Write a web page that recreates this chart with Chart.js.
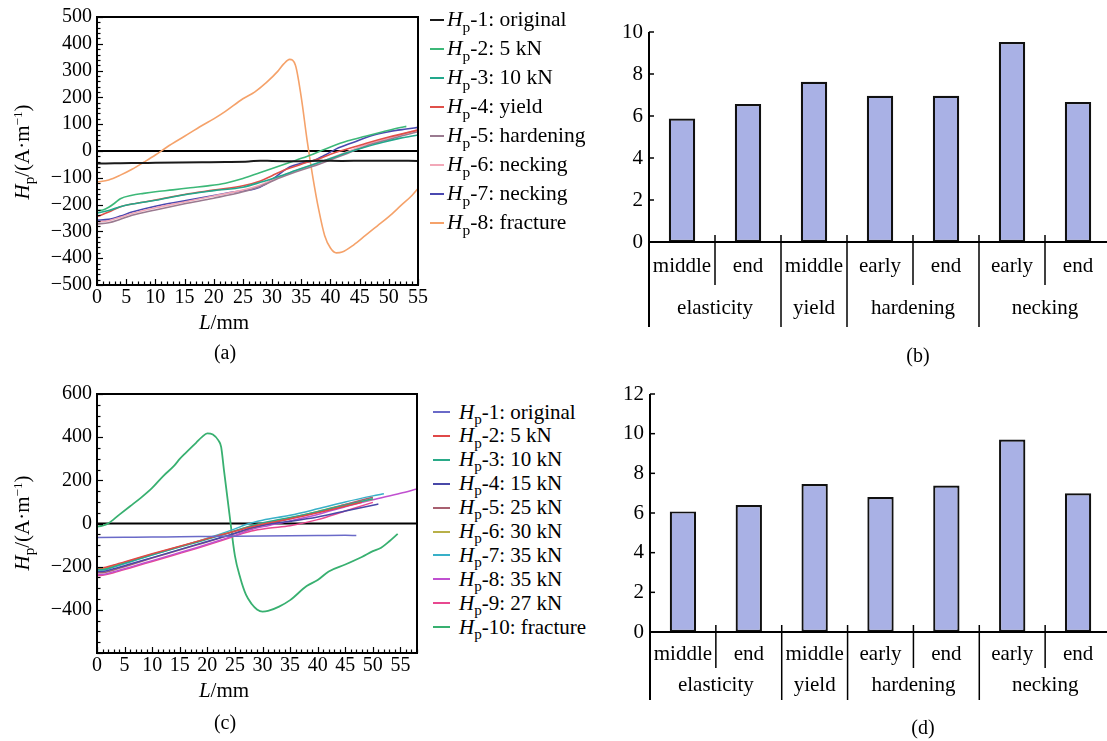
<!DOCTYPE html>
<html><head><meta charset="utf-8">
<script src="https://cdn.jsdelivr.net/npm/chart.js@4"></script>
<style>
html,body{margin:0;padding:0;width:1107px;height:741px;overflow:hidden;background:#fff;font-family:'Liberation Serif','Times New Roman',serif;color:#000}
canvas{position:absolute;display:block}
.t{position:absolute;white-space:nowrap;line-height:1;font-size:20px}
.sub{font-size:0.72em;position:relative;top:0.34em;line-height:0}
.sup{font-size:0.62em;position:relative;top:-0.55em;line-height:0}
.sw{position:absolute;height:2px}
</style></head><body>
<canvas id="ca" width="432" height="312" style="left:0;top:0"></canvas>
<canvas id="cb" width="521" height="370" style="left:590px;top:0"></canvas>
<canvas id="cc" width="432" height="312" style="left:0;top:370px"></canvas>
<canvas id="cd" width="521" height="371" style="left:590px;top:370px"></canvas>
<script>
// ---------- Panel (a) data ----------
const aNames = ['original','5 kN','10 kN','yield','hardening','necking','necking','fracture'];
const aColors = ['#1a1a1a','#3cb878','#22a88c','#e0504a','#9a7a90','#f2a8b8','#4a48b0','#f5a26a'];
const aL1 = [0,3,6,10,14,18,22,26,28,30,34,38,42,46,50,55];
const aH1 = [-47,-46,-45,-44,-43,-42,-41,-39,-36,-37,-38,-36,-37,-36,-36,-37];
const aL2 = [0,1,2,3,4,6,8,10,13,16,19,22,25,28,31,34,37,40,43,46,49,52,53];
const aH2 = [-222,-220,-210,-195,-178,-165,-158,-152,-145,-137,-130,-120,-103,-80,-58,-35,-12,15,38,55,72,88,92];
const aL3 = [0,2,4,6,10,15,20,25,28,31,34,37,40,43,46,49,52,55];
const aH3 = [-232,-222,-208,-198,-184,-163,-148,-135,-117,-96,-73,-50,-28,-5,15,33,48,60];
const aL4 = [0,2,4,6,10,15,20,25,28,30,32,34,36,38,40,43,46,50,55];
const aH4 = [-245,-228,-208,-198,-183,-162,-146,-130,-112,-92,-72,-57,-42,-30,-12,8,28,52,78];
const aL5 = [0,2,4,6,10,15,20,25,28,31,34,37,40,43,46,50,55];
const aH5 = [-272,-268,-255,-240,-220,-197,-176,-152,-132,-103,-78,-57,-33,-8,18,43,72];
const aL6 = [0,2,4,6,10,15,20,25,28,31,34,37,40,43,46,50,55];
const aH6 = [-264,-260,-247,-233,-212,-190,-168,-146,-127,-99,-74,-52,-27,-2,23,48,80];
const aL7 = [0,2,4,6,10,15,20,25,27,29,31,33,35,37,39,41,44,47,50,53,55];
const aH7 = [-258,-255,-243,-228,-206,-186,-166,-148,-142,-122,-90,-60,-46,-36,-16,8,33,57,72,82,88];
const aL8 = [0,2,4,6,8,10,12,15,18,20,22,25,27,29,31,32,33,34,35,36,37,38,39,40,41,42,44,46,48,50,52,54,55];
const aH8 = [-116,-108,-90,-68,-42,-15,15,55,95,120,148,195,220,255,298,325,342,320,200,40,-100,-220,-315,-362,-380,-377,-350,-315,-280,-245,-205,-165,-140];
const xTickValues = [0,5,10,15,20,25,30,35,40,45,50,55];

// ---------- Panel (c) data ----------
const cNames = ['original','5 kN','10 kN','15 kN','25 kN','30 kN','35 kN','35 kN','27 kN','fracture'];
const cColors = ['#6a6ac8','#e04848','#2aaa88','#4848a8','#a86070','#b8b048','#38b0c8','#c050d0','#e84890','#38b070'];
const cL1 = [0,5,10,15,20,25,30,35,40,45,47];
const cH1 = [-65,-64,-63,-61,-60,-59,-58,-57,-56,-55,-56];
const cL2 = [0,1,3,6,10,14,18,22,25,28,31,35,40,45,48];
const cH2 = [-205,-205,-192,-170,-140,-112,-84,-56,-36,-15,2,22,50,80,98];
const cL3 = [0,1,3,6,10,14,18,22,25,28,31,35,40,45,50];
const cH3 = [-212,-214,-200,-176,-145,-116,-88,-58,-35,-10,8,28,55,85,115];
const cL4 = [0,1,3,6,10,14,18,22,25,28,31,35,40,45,50,51];
const cH4 = [-222,-222,-210,-188,-158,-128,-98,-68,-45,-20,-3,10,30,58,85,90];
const cL5 = [0,1,3,6,10,14,18,22,25,28,31,35,40,45,50];
const cH5 = [-228,-228,-215,-192,-160,-130,-100,-70,-46,-22,-2,22,52,88,122];
const cL6 = [0,1,3,6,10,14,18,22,25,28,31,35,40,45,50];
const cH6 = [-208,-210,-196,-172,-142,-113,-85,-56,-34,-12,5,26,56,88,112];
const cL7 = [0,1,3,6,10,14,18,22,25,27,30,35,40,45,50,52];
const cH7 = [-215,-216,-202,-178,-146,-115,-84,-52,-25,-5,15,38,68,100,128,138];
const cL8 = [0,1,3,6,10,14,18,22,25,28,31,35,40,45,50,55,58];
const cH8 = [-236,-236,-224,-202,-172,-142,-112,-80,-55,-28,-10,12,42,78,110,140,160];
const cL9 = [0,1,3,6,10,14,18,22,25,28,31,35,40,45,50];
const cH9 = [-242,-240,-228,-206,-176,-146,-116,-84,-58,-35,-22,-10,18,58,98];
const cL10 = [0,1,2,4,6,8,10,12,14,15,16,18,19,20,21,22,22.5,23,24,25,26,27,28,29,30,31,33,35,38,40,42,45,48,50,51.5,53,54.5];
const cH10 = [-15,-10,0,40,80,120,165,220,268,299,325,375,400,418,412,385,355,250,45,-150,-255,-330,-372,-398,-408,-405,-385,-355,-290,-262,-222,-190,-155,-128,-112,-82,-48];

// ---------- Panels (b), (d) data ----------
const barLabels = ['middle','end','middle','early','end','early','end'];
const groupNames = ['elasticity','yield','hardening','necking'];
const groupSizes = [2,1,2,2];
const bValues = [5.88,6.57,7.63,6.96,6.96,9.52,6.67];
const dValues = [6.08,6.40,7.46,6.81,7.39,9.70,6.99];

Chart.defaults.font.family = "'Liberation Serif','Times New Roman',serif";
Chart.defaults.color = '#000';
Chart.defaults.animation = false;

const minus = v => v < 0 ? '\u2212' + Math.abs(v) : String(v);
const pts = (L,H) => L.map((x,i)=>({x:x, y:H[i]}));

function seg(ctx,x0,y0,x1,y1){ctx.beginPath();ctx.moveTo(x0,y0);ctx.lineTo(x1,y1);ctx.stroke();}

const lineFrame = {
  id:'lineFrame',
  beforeDatasetsDraw(chart,args,o){
    const {ctx, chartArea:a, scales:{y}} = chart;
    ctx.save(); ctx.strokeStyle='#000'; ctx.lineWidth=2;
    const y0 = y.getPixelForValue(0);
    seg(ctx,a.left,y0,a.right,y0);
    ctx.restore();
  },
  afterDatasetsDraw(chart,args,o){
    const {ctx, chartArea:a, scales:{x,y}} = chart;
    ctx.save(); ctx.strokeStyle='#000'; ctx.lineWidth=1.2;
    for (let v=x.min; v<=x.max+1e-9; v+=o.xMinor){
      const px = Math.round(x.getPixelForValue(v))+0.5;
      const major = Math.abs(v/o.xMajor-Math.round(v/o.xMajor))<1e-6;
      seg(ctx,px,a.bottom,px,a.bottom-(major?6:3.5));
    }
    for (let v=y.min; v<=y.max+1e-9; v+=o.yMinor){
      const py = Math.round(y.getPixelForValue(v))+0.5;
      const major = Math.abs(v/o.yMajor-Math.round(v/o.yMajor))<1e-6;
      seg(ctx,a.left,py,a.left+(major?6:3.5),py);
    }
    ctx.lineWidth=2;
    ctx.strokeRect(a.left,a.top,a.right-a.left,a.bottom-a.top);
    ctx.restore();
  }
};

const barAxes = {
  id:'barAxes',
  afterDatasetsDraw(chart,args,o){
    const {ctx, chartArea:a, scales:{x,y}} = chart;
    ctx.save(); ctx.strokeStyle='#000'; ctx.fillStyle='#000';
    ctx.lineWidth=2;
    seg(ctx,a.left,a.top,a.left,a.bottom+o.longEnd);
    seg(ctx,a.left,a.bottom,chart.width,a.bottom);
    ctx.lineWidth=1.5;
    y.ticks.forEach(t=>{const py=y.getPixelForValue(t.value); seg(ctx,a.left,py,a.left+5,py);});
    const half = (x.getPixelForValue(1)-x.getPixelForValue(0))/2;
    ctx.font = "21px 'Liberation Serif','Times New Roman',serif";
    ctx.textAlign='center'; ctx.textBaseline='middle';
    let idx = 0;
    groupSizes.forEach((sz,g)=>{
      const s = idx, e = idx+sz-1;
      const left = x.getPixelForValue(s)-half;
      if (s>0) seg(ctx,left,a.bottom-7,left,a.bottom+o.longEnd);
      for (let k=s+1;k<=e;k++){const px=x.getPixelForValue(k)-half; seg(ctx,px,a.bottom-7,px,a.bottom+o.shortEnd);}
      const cx = (x.getPixelForValue(s)+x.getPixelForValue(e))/2;
      ctx.fillText(groupNames[g], cx, a.bottom+o.l2);
      idx += sz;
    });
    ctx.restore();
  }
};

function lineChart(id, sets, cfg){
  return new Chart(document.getElementById(id), {
    type:'line',
    data:{datasets: sets},
    options:{
      responsive:false,
      layout:{padding:{left:0,top:cfg.padTop,right:cfg.padRight,bottom:0}},
      elements:{point:{radius:0}, line:{borderWidth:1.6, cubicInterpolationMode:'monotone'}},
      plugins:{legend:{display:false}, tooltip:{enabled:false}, lineFrame:cfg.frame},
      scales:{
        x:{type:'linear', min:0, max:cfg.xMax,
           grid:{display:false, drawTicks:false}, border:{display:false},
           afterBuildTicks: s => { s.ticks = xTickValues.map(v=>({value:v})); },
           ticks:{font:{size:20}, padding:1, maxRotation:0, autoSkip:false, callback:v=>minus(v)},
           afterFit: s => { s.height = cfg.xH; }},
        y:{type:'linear', min:cfg.yMin, max:cfg.yMax,
           grid:{display:false, drawTicks:false}, border:{display:false},
           ticks:{font:{size:20}, padding:5, stepSize:cfg.yStep, autoSkip:false,
                  callback:v=> (cfg.hideY.includes(v) ? null : minus(v))},
           afterFit: s => { s.width = 97; }}
      }
    },
    plugins:[lineFrame]
  });
}

const aL = [aL1,aL2,aL3,aL4,aL5,aL6,aL7,aL8];
const aH = [aH1,aH2,aH3,aH4,aH5,aH6,aH7,aH8];
lineChart('ca', aL.map((L,i)=>({label:'Hp-'+(i+1)+': '+aNames[i], data:pts(L,aH[i]), borderColor:aColors[i], borderWidth: i===0?2:1.6})),
  {padTop:16, padRight:14, xMax:55, xH:27, yMin:-500, yMax:500, yStep:100, hideY:[],
   frame:{xMinor:1, xMajor:5, yMinor:20, yMajor:100}});

const cL = [cL1,cL2,cL3,cL4,cL5,cL6,cL7,cL8,cL9,cL10];
const cH = [cH1,cH2,cH3,cH4,cH5,cH6,cH7,cH8,cH9,cH10];
lineChart('cc', cL.map((L,i)=>({label:'Hp-'+(i+1)+': '+cNames[i], data:pts(L,cH[i]), borderColor:cColors[i], borderWidth: i===9?1.8:1.5})),
  {padTop:24, padRight:15, xMax:58, xH:29, yMin:-600, yMax:600, yStep:200, hideY:[-600],
   frame:{xMinor:1, xMajor:5, yMinor:50, yMajor:200}});

function barChart(id, values, cfg){
  return new Chart(document.getElementById(id), {
    type:'bar',
    data:{labels:barLabels, datasets:[{data:values, backgroundColor:'#a9b1e5', borderColor:'#111', borderWidth:2.2, borderSkipped:false, categoryPercentage:1, barPercentage:0.4}]},
    options:{
      responsive:false,
      layout:{padding:{left:0,top:cfg.padTop,right:0,bottom:0}},
      plugins:{legend:{display:false}, tooltip:{enabled:false}, barAxes:cfg.ax},
      scales:{
        x:{grid:{display:false, drawTicks:false}, border:{display:false},
           ticks:{font:{size:21}, padding:cfg.l1Pad, maxRotation:0, autoSkip:false},
           afterFit: s => { s.height = cfg.xH; }},
        y:{min:0, max:cfg.yMax, grid:{display:false, drawTicks:false}, border:{display:false},
           ticks:{font:{size:21}, padding:6, stepSize:2, autoSkip:false},
           afterFit: s => { s.width = cfg.yW; }}
      }
    },
    plugins:[barAxes]
  });
}
barChart('cb', bValues, {padTop:32, xH:128, yMax:10, yW:59, l1Pad:12, ax:{longEnd:85, shortEnd:43, l2:66}});
barChart('cd', dValues, {padTop:24, xH:109, yMax:12, yW:60, l1Pad:10, ax:{longEnd:68, shortEnd:36, l2:53}});

// ---------- HTML text: legends, titles, captions ----------
const hp = n => '<i>H</i><span class="sub">p</span>-' + n + ': ';
function addText(html, x, y, size, rot){
  const d = document.createElement('div'); d.className='t'; d.innerHTML=html;
  d.style.left=x+'px'; d.style.top=y+'px'; d.style.fontSize=size+'px';
  d.style.transform = 'translate(-50%,-50%)' + (rot?' rotate(-90deg)':'');
  document.body.appendChild(d);
}
function legend(names, colors, x0, x1, tx, y0, dy, size){
  names.forEach((nm,i)=>{
    const cy = y0 + dy*i;
    const s = document.createElement('div'); s.className='sw';
    s.style.left=x0+'px'; s.style.width=(x1-x0)+'px'; s.style.top=(cy-1)+'px'; s.style.background=colors[i];
    document.body.appendChild(s);
    const d = document.createElement('div'); d.className='t'; d.innerHTML = hp(i+1) + nm;
    d.style.left=tx+'px'; d.style.top=(cy-size/2)+'px'; d.style.fontSize=size+'px'; d.style.lineHeight=size+'px';
    document.body.appendChild(d);
  });
}
legend(aNames, aColors, 430, 444, 447, 20, 29, 21.5);
legend(cNames, cColors, 433, 450, 459, 412, 23.9, 21);
const yTitle = '<i>H</i><span class="sub">p</span>/(A\u00b7m<span class="sup">\u22121</span>)';
addText(yTitle, 22, 152, 21, true);
addText(yTitle, 22, 523, 21, true);
addText('<i>L</i>/mm', 224, 322, 21);
addText('<i>L</i>/mm', 224, 690, 21);
addText('(a)', 225, 352, 20);
addText('(b)', 918, 355, 20);
addText('(c)', 225, 722, 20);
addText('(d)', 923, 727, 20);
</script>
</body></html>
